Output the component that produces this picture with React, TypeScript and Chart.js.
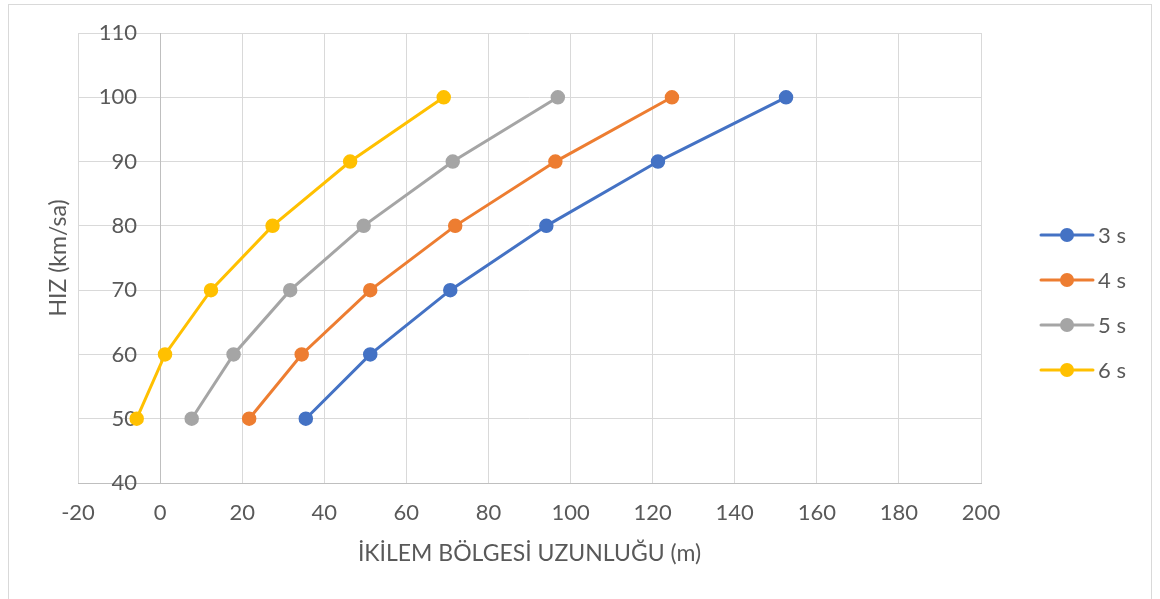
import React, { useEffect, useRef } from "react";
import { Chart, registerables } from "chart.js";

Chart.register(...registerables);

// ---- data ----
const seriesLabels = ["3 s", "4 s", "5 s", "6 s"];
const speeds = [50, 60, 70, 80, 90, 100];
const len3s = [35.5, 51.2, 70.7, 94.1, 121.3, 152.5];
const len4s = [21.7, 34.5, 51.2, 71.9, 96.3, 124.7];
const len5s = [7.7, 17.9, 31.7, 49.6, 71.3, 96.9];
const len6s = [-5.7, 1.2, 12.4, 27.4, 46.3, 69.1];
const seriesColors = ["#4472C4", "#ED7D31", "#A5A5A5", "#FFC000"];
const xTitle = "İKİLEM BÖLGESİ UZUNLUĞU (m)";
const yTitle = "HIZ (km/sa)";

const FONT = "Lato, 'Open Sans', sans-serif";
const TEXT = "#595959";
const GRID = "#D9D9D9";
const AXIS = "#BFBFBF";

const frameAndTitlePlugin = {
  id: "frameAndTitle",
  beforeDraw(chart: any) {
    const { ctx, width, height, chartArea } = chart;
    ctx.save();
    ctx.fillStyle = "#ffffff";
    ctx.fillRect(0, 0, width, height);
    ctx.strokeStyle = GRID;
    ctx.lineWidth = 1;
    ctx.strokeRect(8.5, 4.5, 1143, height + 10);
    ctx.restore();
    // y title
    ctx.save();
    ctx.fillStyle = TEXT;
    ctx.font = `23px ${FONT}`;
    ctx.textAlign = "center";
    ctx.textBaseline = "middle";
    ctx.translate(59, (chartArea.top + chartArea.bottom) / 2);
    ctx.rotate(-Math.PI / 2);
    ctx.fillText(yTitle, 0, 0);
    ctx.restore();
  },
};

const legendPlugin = {
  id: "excelLegend",
  afterDraw(chart: any) {
    const ctx = chart.ctx;
    chart.data.datasets.forEach((ds: any, i: number) => {
      const y = 235 + i * 45;
      ctx.save();
      ctx.strokeStyle = ds.borderColor;
      ctx.lineWidth = 3;
      ctx.lineCap = "round";
      ctx.beginPath();
      ctx.moveTo(1041, y);
      ctx.lineTo(1093, y);
      ctx.stroke();
      ctx.fillStyle = ds.pointBackgroundColor;
      ctx.beginPath();
      ctx.arc(1067, y, 7, 0, Math.PI * 2);
      ctx.fill();
      ctx.fillStyle = TEXT;
      ctx.font = `22px ${FONT}`;
      ctx.textAlign = "left";
      ctx.textBaseline = "middle";
      ctx.fillText(ds.label, 1098, y + 1);
      ctx.restore();
    });
  },
};

export default function App() {
  const ref = useRef<HTMLCanvasElement | null>(null);

  useEffect(() => {
    if (!ref.current) return;
    const all = [len3s, len4s, len5s, len6s];
    const chart = new Chart(ref.current, {
      type: "scatter",
      data: {
        datasets: all.map((lens, i) => ({
          label: seriesLabels[i],
          data: lens.map((x, j) => ({ x, y: speeds[j] })),
          showLine: true,
          borderColor: seriesColors[i],
          backgroundColor: seriesColors[i],
          pointBackgroundColor: seriesColors[i],
          pointBorderColor: seriesColors[i],
          borderWidth: 3,
          pointRadius: 6.5,
          pointBorderWidth: 1.5,
          tension: 0,
        })),
      },
      options: {
        animation: false,
        responsive: false,
        devicePixelRatio: 1,
        layout: { padding: { left: 78, top: 33, right: 179, bottom: 0 } },
        plugins: {
          legend: { display: false },
          tooltip: { enabled: false },
          title: { display: false },
        },
        scales: {
          x: {
            type: "linear",
            min: -20,
            max: 200,
            ticks: { stepSize: 20, color: TEXT, font: { family: FONT, size: 22 }, padding: 17 },
            grid: { color: GRID, lineWidth: 1, drawTicks: false },
            border: { color: AXIS, width: 1 },
            title: {
              display: true,
              text: xTitle,
              color: TEXT,
              font: { family: FONT, size: 23 },
              padding: { top: 0, bottom: 32 },
            },
            afterFit: (scale: any) => {
              scale.height = 116;
            },
          },
          y: {
            type: "linear",
            min: 40,
            max: 110,
            position: { x: 0 } as any,
            ticks: { stepSize: 10, display: false },
            grid: { color: GRID, lineWidth: 1, drawTicks: false },
            border: { color: AXIS, width: 1 },
          },
          yLabels: {
            type: "linear",
            axis: "y",
            min: 40,
            max: 110,
            position: { x: -5.6 } as any,
            z: 1,
            ticks: { stepSize: 10, color: TEXT, font: { family: FONT, size: 22 }, padding: 0 },
            grid: { display: false, drawTicks: false },
            border: { display: false },
          },
        } as any,
      },
      plugins: [frameAndTitlePlugin, legendPlugin],
    });
    return () => chart.destroy();
  }, []);

  return (
    <canvas
      ref={ref}
      width={1160}
      height={599}
      style={{ position: "fixed", left: 0, top: 0, width: 1160, height: 599, display: "block" }}
    />
  );
}
